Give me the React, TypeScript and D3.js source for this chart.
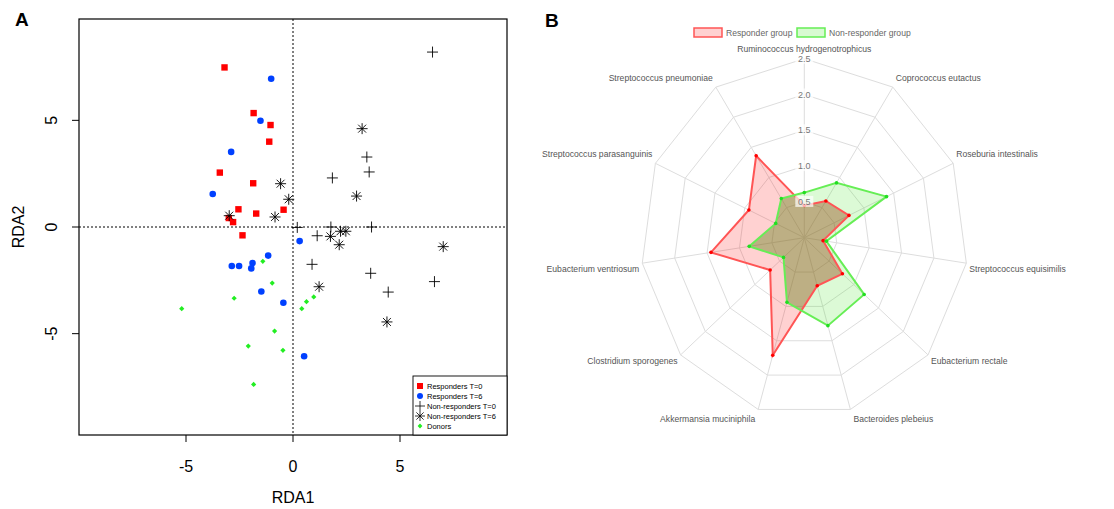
import React from "react";
import * as d3 from "d3";

const respT0 = [[-3.2,7.48],[-1.84,5.34],[-1.05,4.78],[-1.11,4.0],[-3.42,2.55],[-1.86,2.05],[-2.55,0.83],[-1.72,0.63],[-0.44,0.81],[-3.0,0.42],[-2.8,0.23],[-2.36,-0.39]];
const respT6 = [[-1.02,6.95],[-1.52,4.98],[-2.89,3.52],[-3.75,1.55],[0.31,-0.66],[-1.16,-1.34],[-2.86,-1.83],[-2.52,-1.83],[-1.89,-1.69],[-1.95,-1.94],[-1.48,-3.02],[-0.45,-3.55],[0.52,-6.06]];
const nonT0 = [[6.52,8.2],[3.45,3.28],[3.56,2.58],[1.84,2.3],[0.2,-0.02],[1.13,-0.41],[1.77,0],[3.67,0],[0.89,-1.75],[3.63,-2.17],[4.45,-3.05],[6.61,-2.56]];
const nonT6 = [[3.23,4.61],[-0.58,2.03],[-0.2,1.3],[2.97,1.45],[-2.98,0.53],[-0.84,0.47],[1.75,-0.44],[2.22,-0.2],[2.47,-0.2],[2.16,-0.83],[7.02,-0.92],[1.22,-2.8],[4.39,-4.45]];
const donors = [[-1.41,-1.61],[-0.97,-2.63],[-2.75,-3.34],[-5.2,-3.83],[0.97,-3.28],[0.63,-3.5],[0.41,-3.83],[-0.86,-4.88],[-2.09,-5.58],[-0.47,-5.78],[-1.84,-7.38]];
const legendA = ["Responders T=0","Responders T=6","Non-responders T=0","Non-responders T=6","Donors"];

const species = ["Ruminococcus hydrogenotrophicus","Coprococcus eutactus","Roseburia intestinalis","Streptococcus equisimilis","Eubacterium rectale","Bacteroides plebeius","Akkermansia muciniphila","Clostridium sporogenes","Eubacterium ventriosum","Streptococcus parasanguinis","Streptococcus pneumoniae"];
const responder = [0.45,0.61,0.75,0.29,0.77,0.70,1.71,0.69,1.44,0.93,1.36];
const nonResponder = [0.63,0.91,1.38,0.34,1.21,1.28,0.94,0.42,0.85,0.48,0.65];
const rTicks = [0.5,1.0,1.5,2.0,2.5];

const plus = (x: number, y: number, s: number) => `M${x - s},${y}H${x + s}M${x},${y - s}V${y + s}`;
const star = (x: number, y: number, s: number) => {
  const d = s * 0.72;
  return plus(x, y, s) + `M${x - d},${y - d}L${x + d},${y + d}M${x - d},${y + d}L${x + d},${y - d}`;
};
const diamond = (x: number, y: number, s: number) => `M${x},${y - s}L${x + s},${y}L${x},${y + s}L${x - s},${y}Z`;

function PanelA() {
  const x = d3.scaleLinear().domain([-10, 10]).range([79, 507]);
  const y = d3.scaleLinear().domain([-9.75, 9.75]).range([435, 19]);
  const tf = "Liberation Sans, Arial, sans-serif";
  return (
    <g fontFamily={tf}>
      <text x={15} y={26} fontSize={19} fontWeight="bold">A</text>
      <rect x={79} y={19} width={428} height={416} fill="none" stroke="#000" strokeWidth={1.2} />
      <line x1={x(0)} x2={x(0)} y1={19} y2={435} stroke="#000" strokeDasharray="2,2" />
      <line x1={79} x2={507} y1={y(0)} y2={y(0)} stroke="#000" strokeDasharray="2,2" />
      {[-5, 0, 5].map(t => (
        <g key={"x" + t}>
          <line x1={x(t)} x2={x(t)} y1={435} y2={442} stroke="#000" />
          <text x={x(t)} y={472} fontSize={16} textAnchor="middle">{t}</text>
        </g>
      ))}
      {[-5, 0, 5].map(t => (
        <g key={"y" + t}>
          <line x1={72} x2={79} y1={y(t)} y2={y(t)} stroke="#000" />
          <text transform={`translate(57,${y(t)}) rotate(-90)`} fontSize={16} textAnchor="middle">{t}</text>
        </g>
      ))}
      <text x={293} y={503} fontSize={16} textAnchor="middle">RDA1</text>
      <text transform={`translate(24,227) rotate(-90)`} fontSize={16} textAnchor="middle">RDA2</text>
      {respT0.map((p, i) => <rect key={"a" + i} x={x(p[0]) - 3.2} y={y(p[1]) - 3.2} width={6.4} height={6.4} fill="#f00" />)}
      {respT6.map((p, i) => <circle key={"b" + i} cx={x(p[0])} cy={y(p[1])} r={3.3} fill="#0040ff" />)}
      {nonT0.map((p, i) => <path key={"c" + i} d={plus(x(p[0]), y(p[1]), 5.5)} stroke="#000" strokeWidth={0.9} />)}
      {nonT6.map((p, i) => <path key={"d" + i} d={star(x(p[0]), y(p[1]), 5.5)} stroke="#000" strokeWidth={0.9} />)}
      {donors.map((p, i) => <path key={"e" + i} d={diamond(x(p[0]), y(p[1]), 2.6)} fill="#22ee22" />)}
      <rect x={413} y={376} width={94} height={59} fill="#fff" stroke="#000" strokeWidth={0.9} />
      {legendA.map((t, i) => {
        const cy = 386 + i * 10, cx = 420;
        return (
          <g key={t}>
            {i === 0 && <rect x={cx - 3} y={cy - 3} width={6} height={6} fill="#f00" />}
            {i === 1 && <circle cx={cx} cy={cy} r={3} fill="#0040ff" />}
            {i === 2 && <path d={plus(cx, cy, 5)} stroke="#000" strokeWidth={0.8} />}
            {i === 3 && <path d={star(cx, cy, 5)} stroke="#000" strokeWidth={0.8} />}
            {i === 4 && <path d={diamond(cx, cy, 2.4)} fill="#22ee22" />}
            <text x={427} y={cy + 3} fontSize={7.5}>{t}</text>
          </g>
        );
      })}
    </g>
  );
}

function PanelB() {
  const cx = 804.3, cy = 237.7, Rx = 163.7, Ry = 179;
  const n = species.length;
  const r = d3.scaleLinear().domain([0, 2.5]).range([0, 1]);
  const ang = (i: number) => (i * 2 * Math.PI) / n;
  const pt = (i: number, v: number): [number, number] => [cx + Rx * r(v) * Math.sin(ang(i)), cy - Ry * r(v) * Math.cos(ang(i))];
  const poly = (vals: number[]) => (d3.line()(vals.map((v, i) => pt(i, v))) as string) + "Z";
  const tf = "Helvetica, Arial, sans-serif";
  return (
    <g fontFamily={tf}>
      <defs>
        <clipPath id="nonclip"><path d={poly(nonResponder)} /></clipPath>
      </defs>
      <text x={545} y={27} fontSize={19} fontWeight="bold">B</text>
      {rTicks.map(t => <path key={t} d={poly(species.map(() => t))} fill="none" stroke="#ddd" strokeWidth={1} />)}
      {species.map((s, i) => {
        const [ex, ey] = pt(i, 2.5);
        return <line key={s} x1={cx} y1={cy} x2={ex} y2={ey} stroke="#ddd" />;
      })}
      <path d={poly(responder)} fill="rgba(255,0,0,0.18)" stroke="none" />
      <path d={poly(nonResponder)} fill="rgba(60,230,30,0.18)" stroke="none" />
      <path d={poly(responder)} fill="rgba(120,90,30,0.3)" stroke="none" clipPath="url(#nonclip)" />
      <path d={poly(responder)} fill="none" stroke="#f55" strokeWidth={2} />
      <path d={poly(nonResponder)} fill="none" stroke="#6e5" strokeWidth={2} />
      {responder.map((v, i) => { const [px, py] = pt(i, v); return <circle key={"r" + i} cx={px} cy={py} r={1.8} fill="#f00" />; })}
      {nonResponder.map((v, i) => { const [px, py] = pt(i, v); return <circle key={"g" + i} cx={px} cy={py} r={1.8} fill="#2d2" />; })}
      {rTicks.map(t => {
        const yy = cy - Ry * r(t);
        return (
          <g key={"t" + t}>
            <rect x={cx - 9} y={yy - 6} width={18} height={11} fill="rgba(255,255,255,0.7)" />
            <text x={cx} y={yy + 3} fontSize={9} fill="#777" textAnchor="middle">{t.toFixed(1)}</text>
          </g>
        );
      })}
      {species.map((s, i) => {
        const [ex, ey] = pt(i, 2.5);
        const c = Math.cos(ang(i)), sn = Math.sin(ang(i));
        const anchor = Math.abs(sn) < 0.01 ? "middle" : sn > 0 ? "start" : "end";
        const lx = ex + (sn > 0.01 ? 3 : sn < -0.01 ? -3 : 0);
        const ly = i === 0 ? ey - 7 : c > 0 ? ey - 6 : ey + 9 + (c < -0.9 ? 4 : 0);
        return <text key={"l" + s} x={lx} y={ly} fontSize={8.6} fill="#555" textAnchor={anchor}>{s}</text>;
      })}
      <rect x={694} y={28} width={28} height={9} fill="rgba(255,0,0,0.18)" stroke="#f55" strokeWidth={1.5} />
      <text x={726} y={36} fontSize={8.6} fill="#666">Responder group</text>
      <rect x={797} y={28} width={28} height={9} fill="rgba(60,230,30,0.2)" stroke="#6e5" strokeWidth={1.5} />
      <text x={829} y={36} fontSize={8.6} fill="#666">Non-responder group</text>
    </g>
  );
}

export default function App() {
  return (
    <svg width={1114} height={509} style={{ position: "absolute", left: 0, top: 0, background: "#fff" }}>
      <PanelA />
      <PanelB />
    </svg>
  );
}
